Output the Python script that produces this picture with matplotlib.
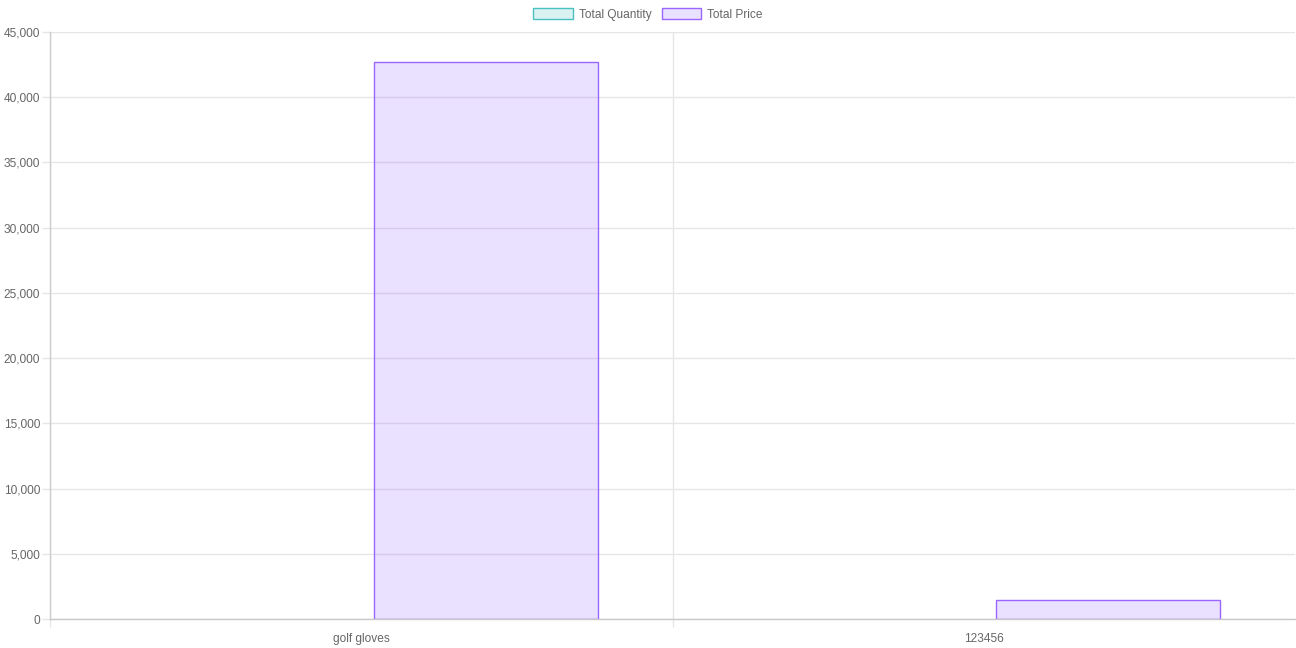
import numpy as np
import matplotlib
matplotlib.use("Agg")
import matplotlib.pyplot as plt
from matplotlib.patches import Patch
from matplotlib.ticker import FuncFormatter, FixedLocator

plt.rcParams['font.family'] = ['Liberation Sans', 'DejaVu Sans']

# data
products = ['golf gloves', '123456']
total_quantity = [3, 1]
total_price = [42700, 1440]
y_ticks = np.arange(0, 45001, 5000)

teal = (75/255, 192/255, 192/255)
purple = (153/255, 102/255, 255/255)

fig = plt.figure(figsize=(12.96, 6.48), dpi=100)
ax = fig.add_axes([50 / 1296, 29 / 648, 1245 / 1296, 587 / 648])

x = np.arange(len(products))
w = 0.36
# quantity bars are far below one pixel tall, so no border shows (as in chart.js)
ax.bar(x - 0.2, total_quantity, width=w, color=teal + (0.2,), linewidth=0, zorder=1)
ax.bar(x + 0.2, total_price, width=w, color=purple + (0.2,),
       edgecolor=purple, linewidth=1, zorder=1)

ax.set_xlim(-0.5, len(products) - 0.5)
ax.set_ylim(0, 45000)

# y axis
ax.set_yticks(y_ticks)
ax.yaxis.set_major_formatter(FuncFormatter(lambda v, p: f'{int(v):,}'))
ax.tick_params(axis='y', length=5.5, width=1, color='#e6e6e6', labelsize=8.6,
               labelcolor='#666666', pad=1.5)
ax.grid(axis='y', color='#e6e6e6', linewidth=1, zorder=0)

# x axis: grid at category edges, labels at centres
ax.xaxis.set_major_locator(FixedLocator(np.arange(-0.5, len(products) - 0.5, 1.0)))
ax.xaxis.set_minor_locator(FixedLocator(x))
ax.set_xticklabels([])
ax.set_xticklabels(products, minor=True)
ax.tick_params(axis='x', which='major', length=5.5, width=1, color='#e6e6e6')
ax.tick_params(axis='x', which='minor', length=0, labelsize=8.6, labelcolor='#666666', pad=10)
ax.grid(axis='x', which='major', color='#e6e6e6', linewidth=1, zorder=0)
ax.set_axisbelow(True)

for s in ['top', 'right']:
    ax.spines[s].set_visible(False)
ax.spines['left'].set_color('#cccccc')
ax.spines['bottom'].set_color('#c8c8c8')
ax.spines['left'].set_linewidth(1)
ax.spines['bottom'].set_linewidth(1)

handles = [Patch(facecolor=teal + (0.2,), edgecolor=teal, linewidth=1),
           Patch(facecolor=purple + (0.2,), edgecolor=purple, linewidth=1)]
fig.legend(handles, ['Total Quantity', 'Total Price'], loc='upper center',
           bbox_to_anchor=(0.5, 1.0), ncol=2, frameon=False,
           fontsize=8.6, labelcolor='#666666', handlelength=3.3, handleheight=1.0,
           handletextpad=0.5, columnspacing=0.9, borderaxespad=0.3)

fig.savefig('out.png', dpi=100)
